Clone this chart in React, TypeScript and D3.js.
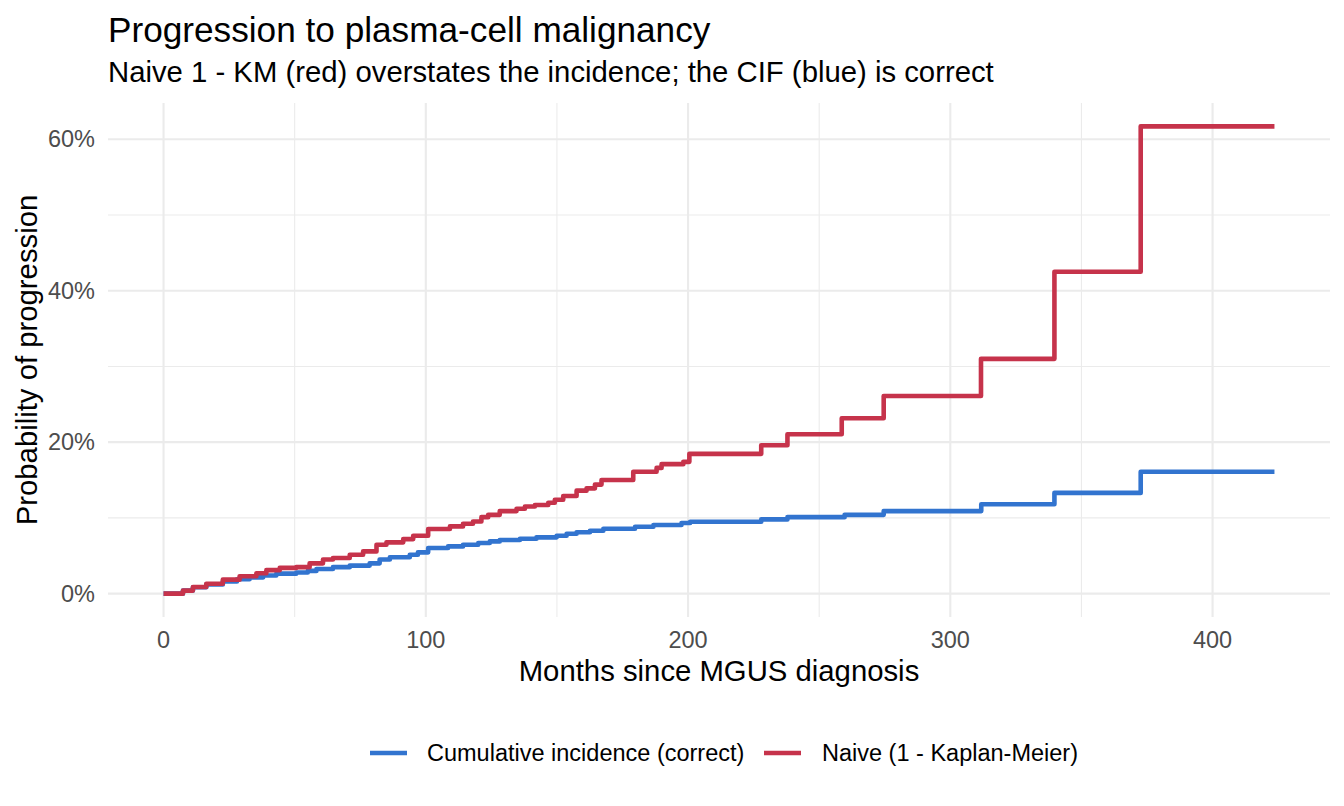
import * as d3 from 'd3';

// months since diagnosis / cumulative probability
const kmTimes = [0, 7.4, 11.2, 16.3, 22.6, 29, 35.4, 39.2, 44.3, 50.6, 55.7, 60.8, 64.6, 71, 76.1, 81.2, 85, 91.4, 95.2, 100.9, 109.2, 114.2, 118, 121.2, 123.8, 128.2, 134.6, 137.8, 141.6, 146.7, 149.2, 152.4, 157.5, 161.3, 164.5, 167, 179.1, 188, 189.9, 198.2, 200.5, 227.9, 237.9, 258.6, 274.6, 311.7, 339.7, 372.6, 423.6];
const kmValues = [0, 0.004, 0.0088, 0.013, 0.0185, 0.023, 0.027, 0.031, 0.034, 0.035, 0.04, 0.045, 0.047, 0.0514, 0.0558, 0.0646, 0.0677, 0.072, 0.0765, 0.0853, 0.0888, 0.0923, 0.0953, 0.101, 0.104, 0.109, 0.112, 0.115, 0.117, 0.12, 0.124, 0.129, 0.136, 0.139, 0.144, 0.15, 0.161, 0.166, 0.171, 0.174, 0.1846, 0.196, 0.2105, 0.2316, 0.261, 0.31, 0.425, 0.617, 0.617];

const cifTimes = [0, 7.4, 11.2, 16.3, 22.6, 28, 32.8, 38, 43, 50.6, 55, 58.3, 64.6, 71, 78.6, 82.4, 86.3, 93.9, 97, 100.9, 108.5, 114.2, 120, 124.4, 128.2, 135.9, 142.2, 149.9, 153.7, 157.5, 162.6, 167.7, 179.8, 186.8, 197.5, 200.8, 227.9, 237.9, 259.7, 274.6, 311.8, 339.7, 372.6, 423.6];
const cifValues = [0, 0.004, 0.0085, 0.012, 0.016, 0.019, 0.0215, 0.024, 0.0264, 0.028, 0.030, 0.0325, 0.035, 0.037, 0.04, 0.045, 0.048, 0.0514, 0.0545, 0.0602, 0.0624, 0.0646, 0.0668, 0.069, 0.0708, 0.0725, 0.0743, 0.0765, 0.079, 0.081, 0.083, 0.0857, 0.0883, 0.0906, 0.0932, 0.095, 0.098, 0.101, 0.104, 0.109, 0.118, 0.133, 0.161, 0.161];

const seriesNames = ['Cumulative incidence (correct)', 'Naive (1 - Kaplan-Meier)'];
const seriesColors = ['#3274CF', '#C6334B'];

const xBreaks = [0, 100, 200, 300, 400];
const xMinor = [50, 150, 250, 350];
const yBreaks = [0, 0.2, 0.4, 0.6];
const yMinor = [0.1, 0.3, 0.5];

const FONT = '"Liberation Sans", Arial, Helvetica, sans-serif';
const width = 1344,
  height = 806;
const PANEL = { left: 108, right: 1330, top: 103, bottom: 617 };

// ggplot-style 5% expansion
const expand = ([lo, hi]: number[]) => {
  const pad = (hi - lo) * 0.05;
  return [lo - pad, hi + pad];
};

export default function App() {
  const series = [
    { name: seriesNames[0], color: seriesColors[0], pts: cifTimes.map((t, i) => [t, cifValues[i]]) },
    { name: seriesNames[1], color: seriesColors[1], pts: kmTimes.map((t, i) => [t, kmValues[i]]) },
  ];

  const allT = [...kmTimes, ...cifTimes];
  const allP = [...kmValues, ...cifValues];

  const xScale = d3
    .scaleLinear()
    .domain(expand(d3.extent(allT) as number[]))
    .range([PANEL.left, PANEL.right]);
  const yScale = d3
    .scaleLinear()
    .domain(expand(d3.extent(allP) as number[]))
    .range([PANEL.bottom, PANEL.top]);

  const line = d3
    .line<number[]>()
    .x(d => xScale(d[0]))
    .y(d => yScale(d[1]))
    .curve(d3.curveStepAfter);

  const pct = d3.format('.0%');

  return (
    <svg width={width} height={height} style={{ position: 'absolute', left: 0, top: 0, background: '#fff' }} fontFamily={FONT}>
      {/* grid */}
      {xMinor.map(v => (
        <line key={'xm' + v} x1={xScale(v)} x2={xScale(v)} y1={PANEL.top} y2={PANEL.bottom} stroke="#EBEBEB" strokeWidth={1.07} />
      ))}
      {yMinor.map(v => (
        <line key={'ym' + v} x1={PANEL.left} x2={PANEL.right} y1={yScale(v)} y2={yScale(v)} stroke="#EBEBEB" strokeWidth={1.07} />
      ))}
      {xBreaks.map(v => (
        <line key={'x' + v} x1={xScale(v)} x2={xScale(v)} y1={PANEL.top} y2={PANEL.bottom} stroke="#EBEBEB" strokeWidth={2.13} />
      ))}
      {yBreaks.map(v => (
        <line key={'y' + v} x1={PANEL.left} x2={PANEL.right} y1={yScale(v)} y2={yScale(v)} stroke="#EBEBEB" strokeWidth={2.13} />
      ))}

      {/* step curves */}
      {series.map(s => (
        <path key={s.name} d={line(s.pts) ?? ''} fill="none" stroke={s.color} strokeWidth={4.6} strokeLinejoin="round" />
      ))}

      {/* axis labels */}
      {xBreaks.map(v => (
        <text key={'xl' + v} x={xScale(v)} y={648} textAnchor="middle" fontSize={23.5} fill="#4D4D4D">
          {v}
        </text>
      ))}
      {yBreaks.map(v => (
        <text key={'yl' + v} x={95} y={yScale(v)} dy="0.35em" textAnchor="end" fontSize={23.5} fill="#4D4D4D">
          {pct(v)}
        </text>
      ))}

      <text x={(PANEL.left + PANEL.right) / 2} y={681} textAnchor="middle" fontSize={29.3} fill="#000">
        Months since MGUS diagnosis
      </text>
      <text
        transform={`translate(37,${(PANEL.top + PANEL.bottom) / 2}) rotate(-90)`}
        textAnchor="middle"
        fontSize={29.3}
        fill="#000"
      >
        Probability of progression
      </text>

      {/* titles */}
      <text x={108} y={42} fontSize={35.2} fill="#000">
        Progression to plasma-cell malignancy
      </text>
      <text x={108} y={82} fontSize={29.3} fill="#000">
        Naive 1 - KM (red) overstates the incidence; the CIF (blue) is correct
      </text>

      {/* legend */}
      {[
        { x: 370, tx: 427 },
        { x: 764, tx: 822 },
      ].map((pos, i) => (
        <g key={'lg' + i}>
          <line x1={pos.x} x2={pos.x + 37} y1={753} y2={753} stroke={series[i].color} strokeWidth={4.6} />
          <text x={pos.tx} y={753} dy="0.35em" fontSize={23.5} fill="#000">
            {series[i].name}
          </text>
        </g>
      ))}
    </svg>
  );
}
